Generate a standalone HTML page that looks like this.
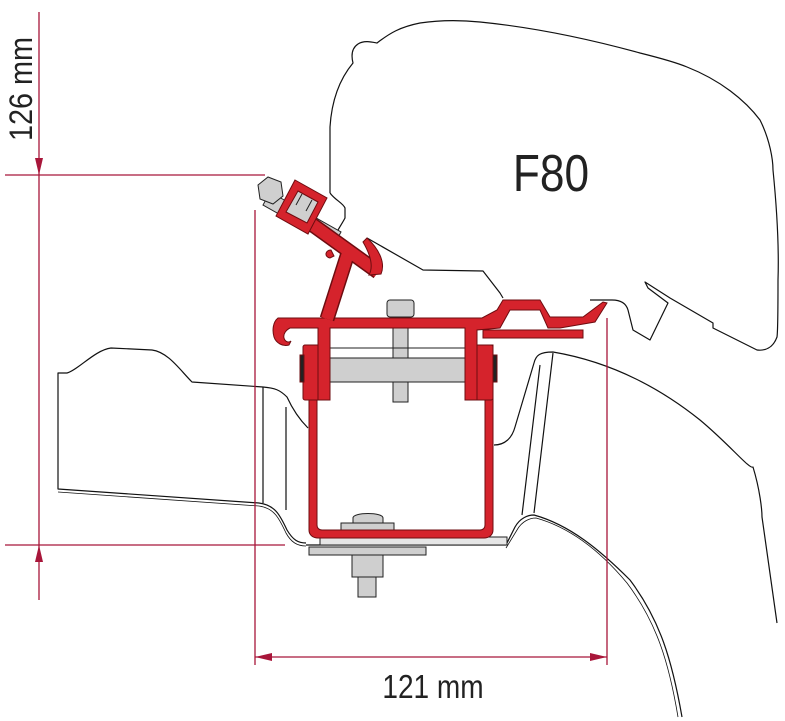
<!DOCTYPE html>
<html><head><meta charset="utf-8"><style>
html,body{margin:0;padding:0;background:#fff;}
svg{display:block;}
text{font-family:"Liberation Sans",sans-serif;}
</style></head><body>
<svg width="785" height="721" viewBox="0 0 785 721" xmlns="http://www.w3.org/2000/svg">
<g fill="none" stroke="#111" stroke-width="1.2" stroke-linejoin="round">
<path d="M330,193 L330,127 C332,95 343,75 353,63 C351,55 352,48 358,44 C364,40 372,42 377,43 C390,33 400,27 420,23 C440,20 460,20 480,22 C540,28 600,42 640,53 C660,58 675,62 687,67 C720,80 745,100 760,120 C770,140 773,160 773,170 C777,210 779,250 778,280 C778,310 778,330 777,337 C773,348 765,351 757,350 L713,328 L713,323 L670,298 L645,282 L648,288 L668,303 L650,340 L633,330 L628,310 C626,303 620,300 612,300 L590,300"/>
<path d="M330,193 C335,200 343,203 345,208 L345,218 C342,224 336,232 333,240"/>
<path d="M367,238 L423,270 L483,271 L500,293 L503,298"/>
<path d="M308,428 C298,418 292,408 287,397 C280,390 275,388 263,387 L192,382 C180,370 168,352 152,350 L111,348 C95,350 78,370 67,373 L58,373 L58,489 L259,503 C275,505 280,515 287,530 C293,540 298,543 306,543"/>
<path d="M58,492 L259,506 C274,508 279,518 286,533 C291,542 297,546 306,546" stroke-width="0.8"/>
<path d="M263,387 L263,503 M286,407 L286,510"/>
<path d="M306,545 L506,545 L515,527 C520,518 528,515 534,515 C570,525 600,550 630,580 C660,620 672,660 682,717"/>
<path d="M506,548 L517,530 C522,521 530,518 536,518 C572,528 602,553 627,583 C657,623 669,663 678,717" stroke-width="0.8"/>
<path d="M494,445 C505,445 512,438 515,427 L534,363 C536,355 540,352 553,352 C600,360 650,380 700,420 C730,445 750,470 753,467 C760,490 762,510 762,517 L777,623"/>
<path d="M553,353 L534,513 M540,365 L522,515"/>
</g>
<g stroke="#a8163a" stroke-width="1.3" fill="#a8163a">
<line x1="39" y1="12" x2="39" y2="600"/>
<line x1="5" y1="175" x2="265" y2="175"/>
<line x1="5" y1="545" x2="285" y2="545"/>
<line x1="255" y1="210" x2="255" y2="665"/>
<line x1="607" y1="318" x2="607" y2="665"/>
<line x1="255" y1="657" x2="607" y2="657"/>
<path d="M35,158 L43,158 L39,175 Z" stroke="none"/>
<path d="M35,562 L43,562 L39,545 Z" stroke="none"/>
<path d="M255,657 L272,653 L272,661 Z" stroke="none"/>
<path d="M607,657 L590,653 L590,661 Z" stroke="none"/>
</g>
<text transform="translate(32,89) rotate(-90) scale(0.9,1)" text-anchor="middle" font-size="32" fill="#222">126 mm</text>
<text transform="translate(433,698) scale(0.85,1)" text-anchor="middle" font-size="33" fill="#222">121 mm</text>
<text transform="translate(551,191) scale(0.85,1)" text-anchor="middle" font-size="52" fill="#222">F80</text>
<g fill="#cfcfcf" stroke="#222" stroke-width="1">
<path d="M270,192 L341,232 L334,245 L263,205 Z"/>
<path d="M258,185 L268,177 L281,182 L283,196 L273,204 L260,199 Z"/>
<rect x="387" y="300" width="27" height="17" rx="3"/>
<rect x="393" y="317" width="15" height="85"/>
<rect x="328" y="358" width="137" height="24"/>
<line x1="328" y1="348" x2="465" y2="348"/>
<rect x="320" y="537" width="187" height="8" fill="#e6e6e6"/>
<rect x="309" y="547" width="117" height="8"/>
<rect x="352" y="555" width="31" height="22"/>
<rect x="358" y="577" width="18" height="20"/>
<path d="M353,523 L353,518 C353,512 383,512 383,518 L383,523 Z"/>
<rect x="341" y="523" width="53" height="7"/>
</g>
<g fill="#d5232c" stroke="#6e0c10" stroke-width="1">
<path d="M309,345 L317,345 L317,525 C317,528 319,530 322,530 L480,530 C483,530 485,528 485,525 L485,345 L493,345 L493,530 C493,535 489,538 484,538 L318,538 C313,538 309,535 309,530 Z"/>
<rect x="303" y="345" width="27" height="55" rx="2"/>
<rect x="465" y="345" width="28" height="55" rx="2"/>
<rect x="300" y="355" width="4" height="27" fill="#222"/>
<rect x="493" y="355" width="4" height="27" fill="#222"/>
<path d="M278,318 L482,318 L497,310 L503,300 L540,300 L550,317 L583,317 L603,302 L607,303 L595,322 L560,328 L548,328 L540,310 L510,310 L500,328 L477,330 L477,400 L465,400 L465,328 L330,328 L330,400 L318,400 L318,328 L290,328 C286,330 283,334 284,338 C285,342 289,343 291,341 L289,345 C283,347 276,343 274,337 C272,330 273,322 278,318 Z"/>
<rect x="483" y="330" width="100" height="8"/>
</g>
<g fill="none" stroke-linecap="butt" stroke-linejoin="round">
<path d="M327,319 L349,250 M378,272 L285,205" stroke="#6e0c10" stroke-width="15"/>
<path d="M327,319 L349,250 M378,272 L285,205" stroke="#d5232c" stroke-width="12"/>
</g>
<g fill="#d5232c" stroke="#6e0c10" stroke-width="1">
<path d="M367,238 C378,248 386,262 381,274 L369,275 C374,266 370,254 363,242 Z"/>
<path d="M331,250 C325,250 324,257 330,258 L334,256 Z"/>
<path d="M295,180 L327,198 L308,234 L276,216 Z"/>
<path d="M298,191 L318,202 L307,223 L286,212 Z" fill="#cfcfcf"/>
<path d="M302,194 L296,205 M312,200 L306,211" stroke="#222"/>
</g>
</svg>
</body></html>
